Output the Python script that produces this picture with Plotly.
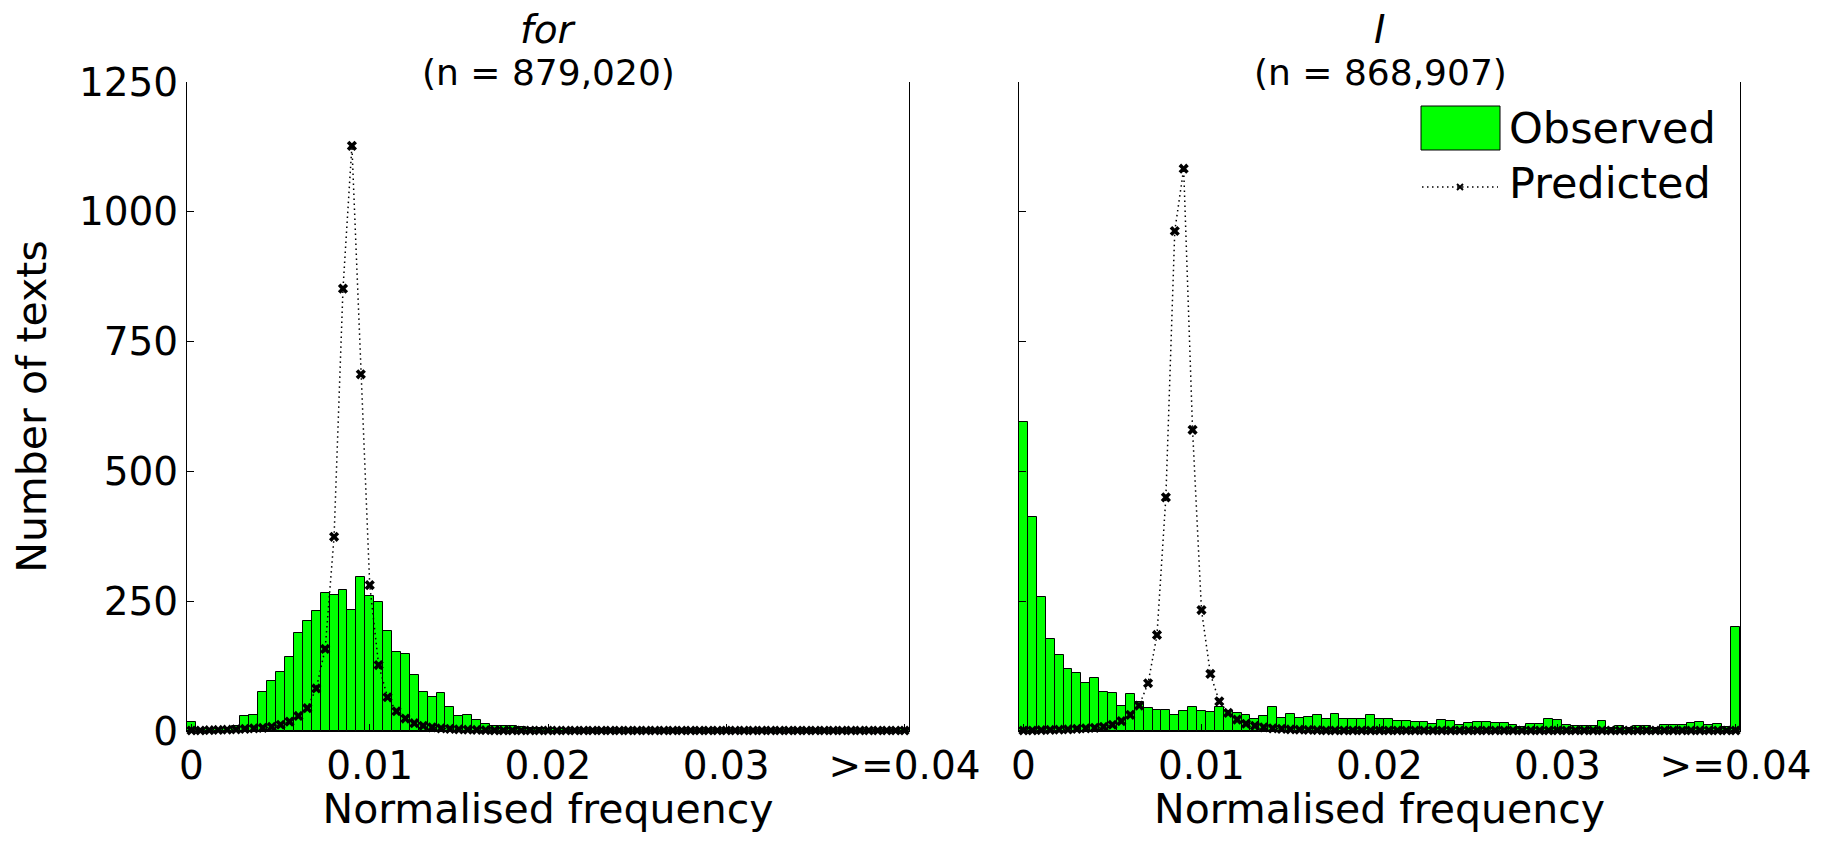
import plotly.graph_objects as go

# ---------------- data ----------------
bin_width = 0.0005
bin_centres = [round(i * bin_width, 5) for i in range(81)]

x_tick_values = [0, 0.01, 0.02, 0.03, 0.04]
x_tick_labels = ["0", "0.01", "0.02", "0.03", ">=0.04"]
y_tick_values = [0, 250, 500, 750, 1000, 1250]

panel_words = ["for", "I"]
panel_counts = ["(n = 879,020)", "(n = 868,907)"]

for_observed = [
    18, 2, 3, 4, 6, 9, 28, 31, 76, 96,
    114, 143, 188, 212, 231, 265, 262, 271, 234, 297,
    260, 249, 193, 152, 149, 107, 75, 65, 74, 47,
    28, 30, 22, 13, 10, 10, 10, 7, 6, 5,
    4, 3, 3, 2, 2, 2, 2, 1, 2, 1,
    1, 1, 1, 1, 1, 1, 1, 1, 1, 1,
    1, 1, 1, 1, 1, 1, 1, 1, 1, 1,
    1, 1, 1, 1, 1, 1, 1, 1, 1, 1,
    3,
]
for_predicted = [
    1, 1, 1.5, 2, 2.5, 3, 4, 5, 6, 8,
    12, 18, 29, 44, 82, 158, 374, 852, 1127, 687,
    281, 127, 65, 38, 24, 15, 10, 7, 5, 4,
    3, 2.5, 2, 1.5, 1.2, 1, 1, 1, 1, 1,
    1, 1, 1, 1, 1, 1, 1, 1, 1, 1,
    1, 1, 1, 1, 1, 1, 1, 1, 1, 1,
    1, 1, 1, 1, 1, 1, 1, 1, 1, 1,
    1, 1, 1, 1, 1, 1, 1, 1, 1, 1,
    1,
]
i_observed = [
    595, 413, 259, 177, 146, 119, 112, 93, 103, 75,
    73, 49, 71, 55, 45, 41, 41, 30, 38, 47,
    38, 37, 46, 38, 34, 31, 24, 28, 47, 26,
    32, 26, 27, 31, 24, 33, 23, 24, 23, 30,
    24, 24, 20, 20, 17, 18, 14, 22, 19, 12,
    16, 18, 18, 16, 15, 12, 7, 14, 14, 24,
    22, 12, 10, 10, 10, 19, 6, 10, 6, 10,
    9, 6, 12, 12, 12, 15, 18, 12, 14, 8,
    200,
]
i_predicted = [
    1, 1, 1.5, 2, 2.5, 3, 4, 5, 6, 8,
    12, 19, 31, 49, 92, 185, 450, 963, 1083, 580,
    233, 110, 57, 35, 22, 14, 10, 7, 5, 4,
    3, 2.5, 2, 1.5, 1, 1, 1, 1, 1, 1,
    1, 1, 1, 1, 1, 1, 1, 1, 1, 1,
    1, 1, 1, 1, 1, 1, 1, 1, 1, 1,
    1, 1, 1, 1, 1, 1, 1, 1, 1, 1,
    1, 1, 1, 1, 1, 1, 1, 1, 1, 1,
    1,
]

# ---------------- style ----------------
OFF = 8                      # page body margin in the browser
W, H = 1822 - 2 * OFF, 841 - 2 * OFF
# target screen positions (px) of the plot area
LEFT, RIGHT, TOP, BOTTOM = 187, 1740, 82, 731
ML, MT = LEFT - OFF, TOP - OFF
MR, MB = (W + OFF) - RIGHT, (H + OFF) - BOTTOM
PW, PH = W - ML - MR, H - MT - MB
FONT = "DejaVu Sans"
GREEN = "#00ff00"


def px_x(p):
    return (p - LEFT) / PW


def px_y(p):
    return (BOTTOM - p) / PH


fig = go.Figure()

panels = [(for_observed, for_predicted, "x", "y"), (i_observed, i_predicted, "x2", "y2")]
for obs, pred, xa, ya in panels:
    fig.add_trace(go.Bar(
        x=bin_centres, y=obs, width=bin_width, xaxis=xa, yaxis=ya,
        marker=dict(color=GREEN, line=dict(color="black", width=1)),
        name="Observed", showlegend=False,
    ))
    fig.add_trace(go.Scatter(
        x=bin_centres, y=pred, xaxis=xa, yaxis=ya, mode="lines+markers",
        line=dict(color="black", width=1.5, dash="1.5px,3.5px"),
        marker=dict(symbol="x", size=9, color="black"),
        cliponaxis=False, name="Predicted", showlegend=False,
    ))

axis_common = dict(
    range=[-bin_width / 2, 0.04 + bin_width / 2],
    tickvals=x_tick_values, ticktext=x_tick_labels,
    ticks="inside", ticklen=7, tickcolor="black",
    showline=True, linecolor="black", linewidth=1,
    showgrid=False, zeroline=False, automargin=False,
    tickfont=dict(family=FONT, size=39, color="black"),
    title=dict(text="Normalised frequency", font=dict(family=FONT, size=41, color="black"), standoff=10),
)
yaxis_common = dict(
    range=[0, 1250], tickvals=y_tick_values,
    ticks="inside", ticklen=7, tickcolor="black",
    showline=True, mirror=True, linecolor="black", linewidth=1,
    showgrid=False, zeroline=False, automargin=False,
    tickfont=dict(family=FONT, size=39, color="black"),
)

fig.update_layout(
    width=W, height=H,
    margin=dict(l=ML, r=MR, t=MT, b=MB),
    paper_bgcolor="white", plot_bgcolor="white",
    bargap=0, barmode="overlay",
    font=dict(family=FONT, color="black"),
    xaxis=dict(domain=[0, px_x(909)], anchor="y", **axis_common),
    xaxis2=dict(domain=[px_x(1019), 1], anchor="y2", **axis_common),
    yaxis=dict(domain=[0, 1], anchor="x",
               title=dict(text="Number of texts", font=dict(family=FONT, size=41, color="black"), standoff=20),
               **yaxis_common),
    yaxis2=dict(domain=[0, 1], anchor="x2", showticklabels=False, **yaxis_common),
    showlegend=False,
)

# panel titles
for cx, word, count in zip([px_x(548), px_x(1380)], panel_words, panel_counts):
    fig.add_annotation(x=cx, y=px_y(30), xref="paper", yref="paper", text="<i>" + word + "</i>",
                       showarrow=False, font=dict(family=FONT, size=39, color="black"),
                       xanchor="center", yanchor="middle")
    fig.add_annotation(x=cx, y=px_y(72), xref="paper", yref="paper", text=count,
                       showarrow=False, font=dict(family=FONT, size=36, color="black"),
                       xanchor="center", yanchor="middle")

# legend (drawn manually to match the large swatch)
fig.add_shape(type="rect", xref="paper", yref="paper",
              x0=px_x(1421), x1=px_x(1500), y0=px_y(150), y1=px_y(106),
              fillcolor=GREEN, line=dict(color="black", width=1))
fig.add_annotation(x=px_x(1507), y=px_y(128), xref="paper", yref="paper", text="Observed",
                   showarrow=False, font=dict(family=FONT, size=43, color="black"),
                   xanchor="left", yanchor="middle")
fig.add_shape(type="line", xref="paper", yref="paper",
              x0=px_x(1422), x1=px_x(1498), y0=px_y(187), y1=px_y(187),
              line=dict(color="black", width=1.5, dash="1.5px,3.5px"))
for d in (1, -1):
    fig.add_shape(type="line", xref="paper", yref="paper",
                  x0=px_x(1460 - 3), x1=px_x(1460 + 3), y0=px_y(187 - 3 * d), y1=px_y(187 + 3 * d),
                  line=dict(color="black", width=2))
fig.add_annotation(x=px_x(1507), y=px_y(183), xref="paper", yref="paper", text="Predicted",
                   showarrow=False, font=dict(family=FONT, size=43, color="black"),
                   xanchor="left", yanchor="middle")

fig.write_html("out.html")
